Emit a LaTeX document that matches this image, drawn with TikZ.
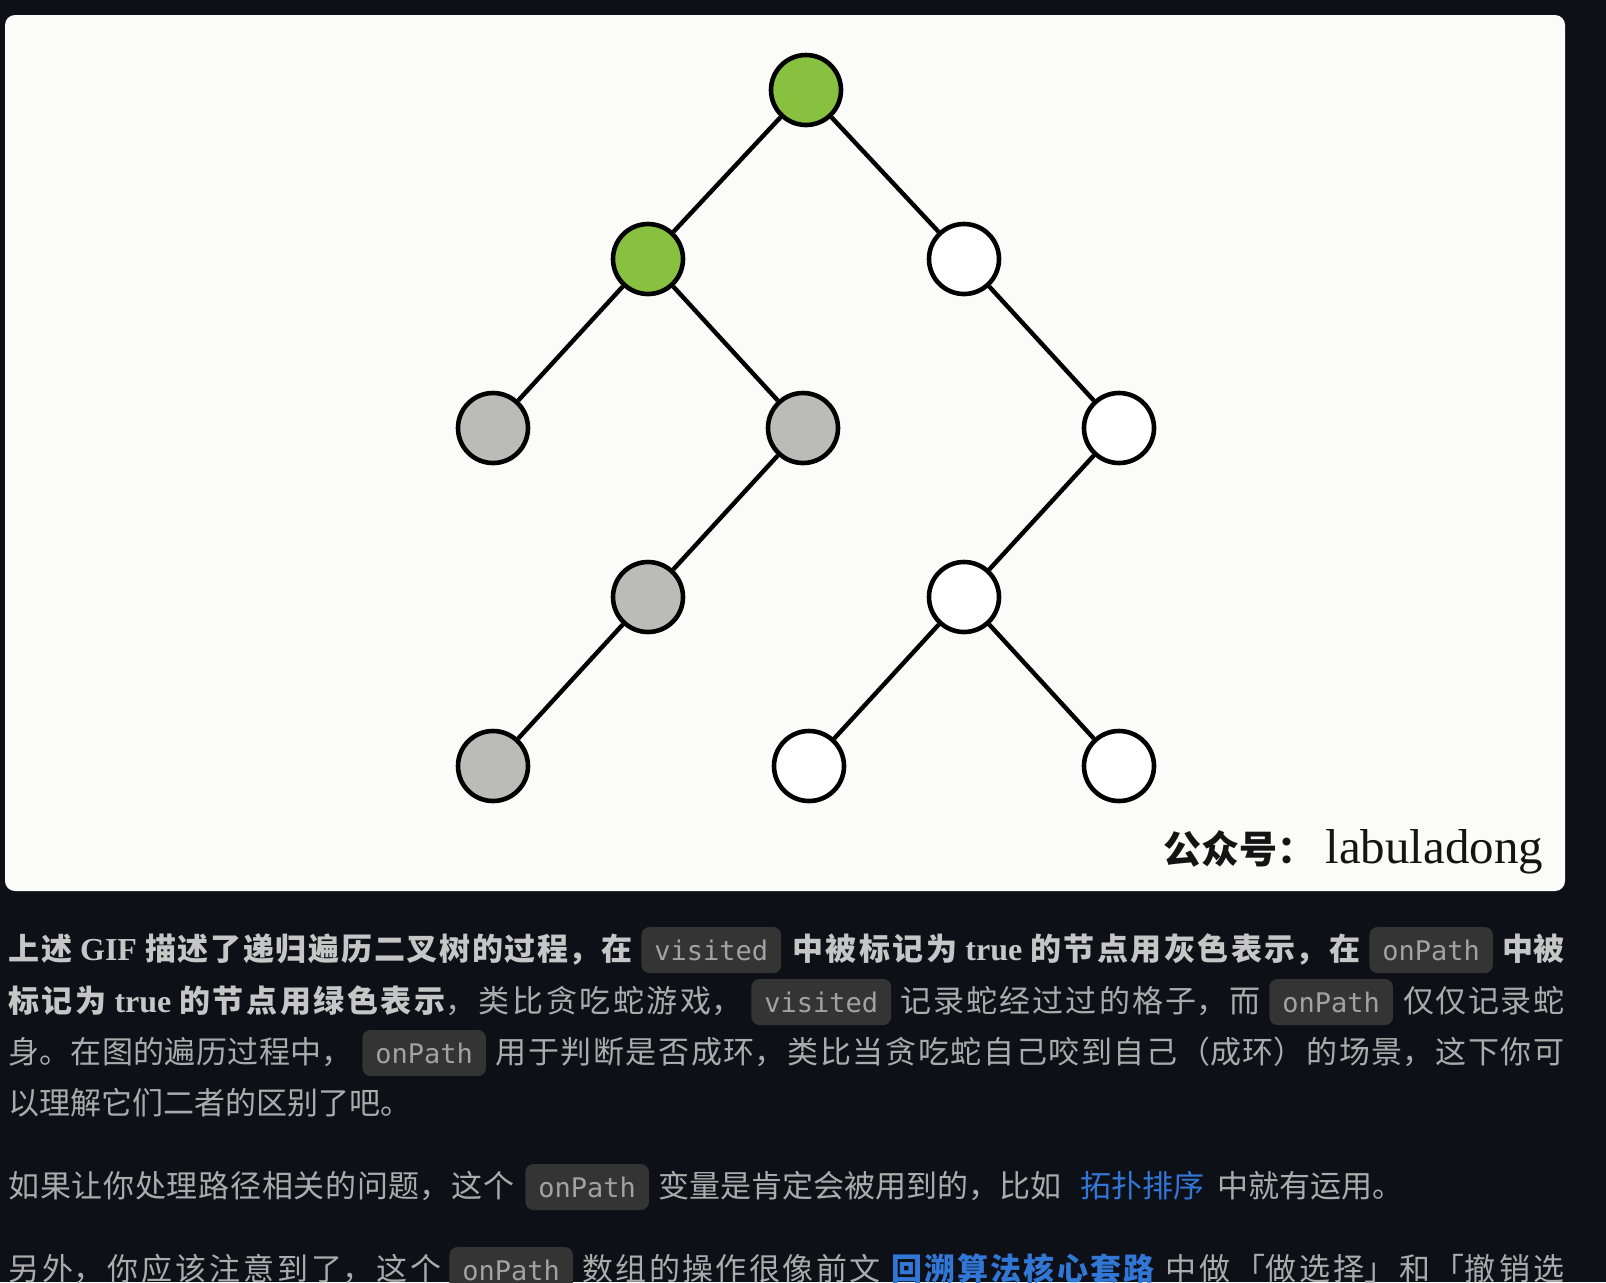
\documentclass[tikz,border=0pt]{standalone}
\usepackage{fontspec}
\setmainfont{Noto Sans CJK SC}
\newfontfamily\latinserif{Liberation Serif}
\newfontfamily\codefont{DejaVu Sans Mono}
\XeTeXlinebreaklocale "zh"
\XeTeXlinebreakskip=0pt plus 1fil
\definecolor{pagebg}{HTML}{0D1117}
\definecolor{cardbg}{HTML}{FBFBF9}
\definecolor{pathgreen}{HTML}{88C140}
\definecolor{seengray}{HTML}{BBBCB8}
\definecolor{bodytext}{HTML}{ABABAB}
\definecolor{boldtext}{HTML}{C6C6C6}
\definecolor{chipbg}{HTML}{343434}
\definecolor{codetext}{HTML}{A2A2A2}
\definecolor{linkblue}{HTML}{3276D6}
\newcommand\bodysize{\fontsize{15.5pt}{18pt}\selectfont}
\newcommand\spreadto[2]{\parbox[b]{#1}{\parfillskip=0pt\relax #2}}
\newcommand\latinb[1]{\hspace{4pt}{\latinserif\bfseries\fontsize{16pt}{18pt}\selectfont #1}\hspace{4pt}}
\begin{document}
\begin{tikzpicture} [
  x=0.5pt, y=-0.5pt,
  level distance=84.5pt,
  level 1/.style={sibling distance=158pt},
  level 2/.style={sibling distance=155pt},
  level 3/.style={sibling distance=155pt},
  level 4/.style={sibling distance=155pt},
  edge from parent/.style={draw, line width=2.2pt},
  dot/.style={circle, draw, line width=2.3pt, minimum size=35pt, inner sep=0pt},
  onpath/.style={dot, fill=pathgreen},
  seen/.style={dot, fill=seengray},
  unseen/.style={dot, fill=white},
  txt/.style={anchor=base west, inner sep=0pt, text=bodytext, font=\bodysize},
  boldtxt/.style={txt, text=boldtext, font=\bodysize\bfseries},
  linktxt/.style={txt, text=linkblue},
  chip/.style={anchor=base west, fill=chipbg, rounded corners=4pt, text=codetext,
    font=\codefont\fontsize{13.5pt}{16pt}\selectfont,
    inner xsep=6.5pt, inner ysep=0pt, text height=16.5pt, text depth=6.5pt}]
\fill[pagebg] (0,0) rectangle (1606,1282);
\useasboundingbox (0,0) rectangle (1606,1282);
\fill[cardbg, rounded corners=5pt] (5,15) rectangle (1565,891);
\node[onpath] (root) at (806,90) {}
 child {node[onpath] (a) {}
      child {node[seen] (aa) {}}
      child {node[seen] (ab) {}
        child {node[seen] (aba) {}
          child {node[seen] (abaa) {}}
          child[missing] {}}
        child[missing] {}}}
 child {node[unseen] (b) {}
      child[missing] {}
      child {node[unseen] (bb) {}
        child {node[unseen] (bba) {}
          child {node[unseen] (bbaa) {}}
          child {node[unseen] (bbab) {}}}
        child[missing] {}}};
\node[anchor=base west, inner sep=0pt, text=black!92, font=\bfseries\fontsize{19pt}{22pt}\selectfont] (wm1) at (1163,863) {公众号：};
\node[anchor=base west, inner sep=0pt, text=black!92, font=\latinserif\fontsize{24.5pt}{28pt}\selectfont] (wm2) at (1325,863) {labuladong};
\node[boldtxt] (l1a) at (8,960) {\spreadto{312pt}{上述\latinb{GIF}描述了递归遍历二叉树的过程，在}};
\node[chip] (c1) at (641,960) {visited};
\node[boldtxt] (l1b) at (792,960) {\spreadto{284pt}{中被标记为\latinb{true}的节点用灰色表示，在}};
\node[chip] (c2) at (1369,960) {onPath};
\node[boldtxt] (l1c) at (1502,960) {中被};
\node[txt] (l2a) at (8,1012) {\spreadto{367pt}{{\color{boldtext}\bfseries 标记为\latinb{true}的节点用绿色表示}，类比贪吃蛇游戏，}};
\node[chip] (c3) at (751,1012) {visited};
\node[txt] (l2b) at (900,1012) {\spreadto{180pt}{记录蛇经过过的格子，而}};
\node[chip] (c4) at (1269,1012) {onPath};
\node[txt] (l2c) at (1403,1012) {\spreadto{80.5pt}{仅仅记录蛇}};
\node[txt] (l3a) at (8,1063) {\spreadto{172pt}{身。在图的遍历过程中，}};
\node[chip] (c5) at (362,1063) {onPath};
\node[txt] (l3b) at (495,1063) {\spreadto{534.5pt}{用于判断是否成环，类比当贪吃蛇自己咬到自己（成环）的场景，这下你可}};
\node[txt] (l4) at (8,1114) {以理解它们二者的区别了吧。};
\node[txt] (l5a) at (8,1197) {\spreadto{253pt}{如果让你处理路径相关的问题，这个}};
\node[chip] (c6) at (525,1197) {onPath};
\node[txt] (l5b) at (658,1197) {变量是肯定会被用到的，比如};
\node[linktxt] (k1) at (1080,1197) {拓扑排序};
\node[txt] (l5c) at (1217,1197) {中就有运用。};
\node[txt] (l6a) at (8,1280) {\spreadto{216.5pt}{另外，你应该注意到了，这个}};
\node[chip] (c7) at (449,1280) {onPath};
\node[txt] (l6b) at (582,1280) {\spreadto{149pt}{数组的操作很像前文}};
\node[linktxt, font=\bodysize\bfseries] (k2) at (891,1280) {\spreadto{131.5pt}{回溯算法核心套路}};
\node[txt] (l6c) at (1165,1280) {\spreadto{199.5pt}{中做「做选择」和「撤销选}};
\end{tikzpicture}
\end{document}
